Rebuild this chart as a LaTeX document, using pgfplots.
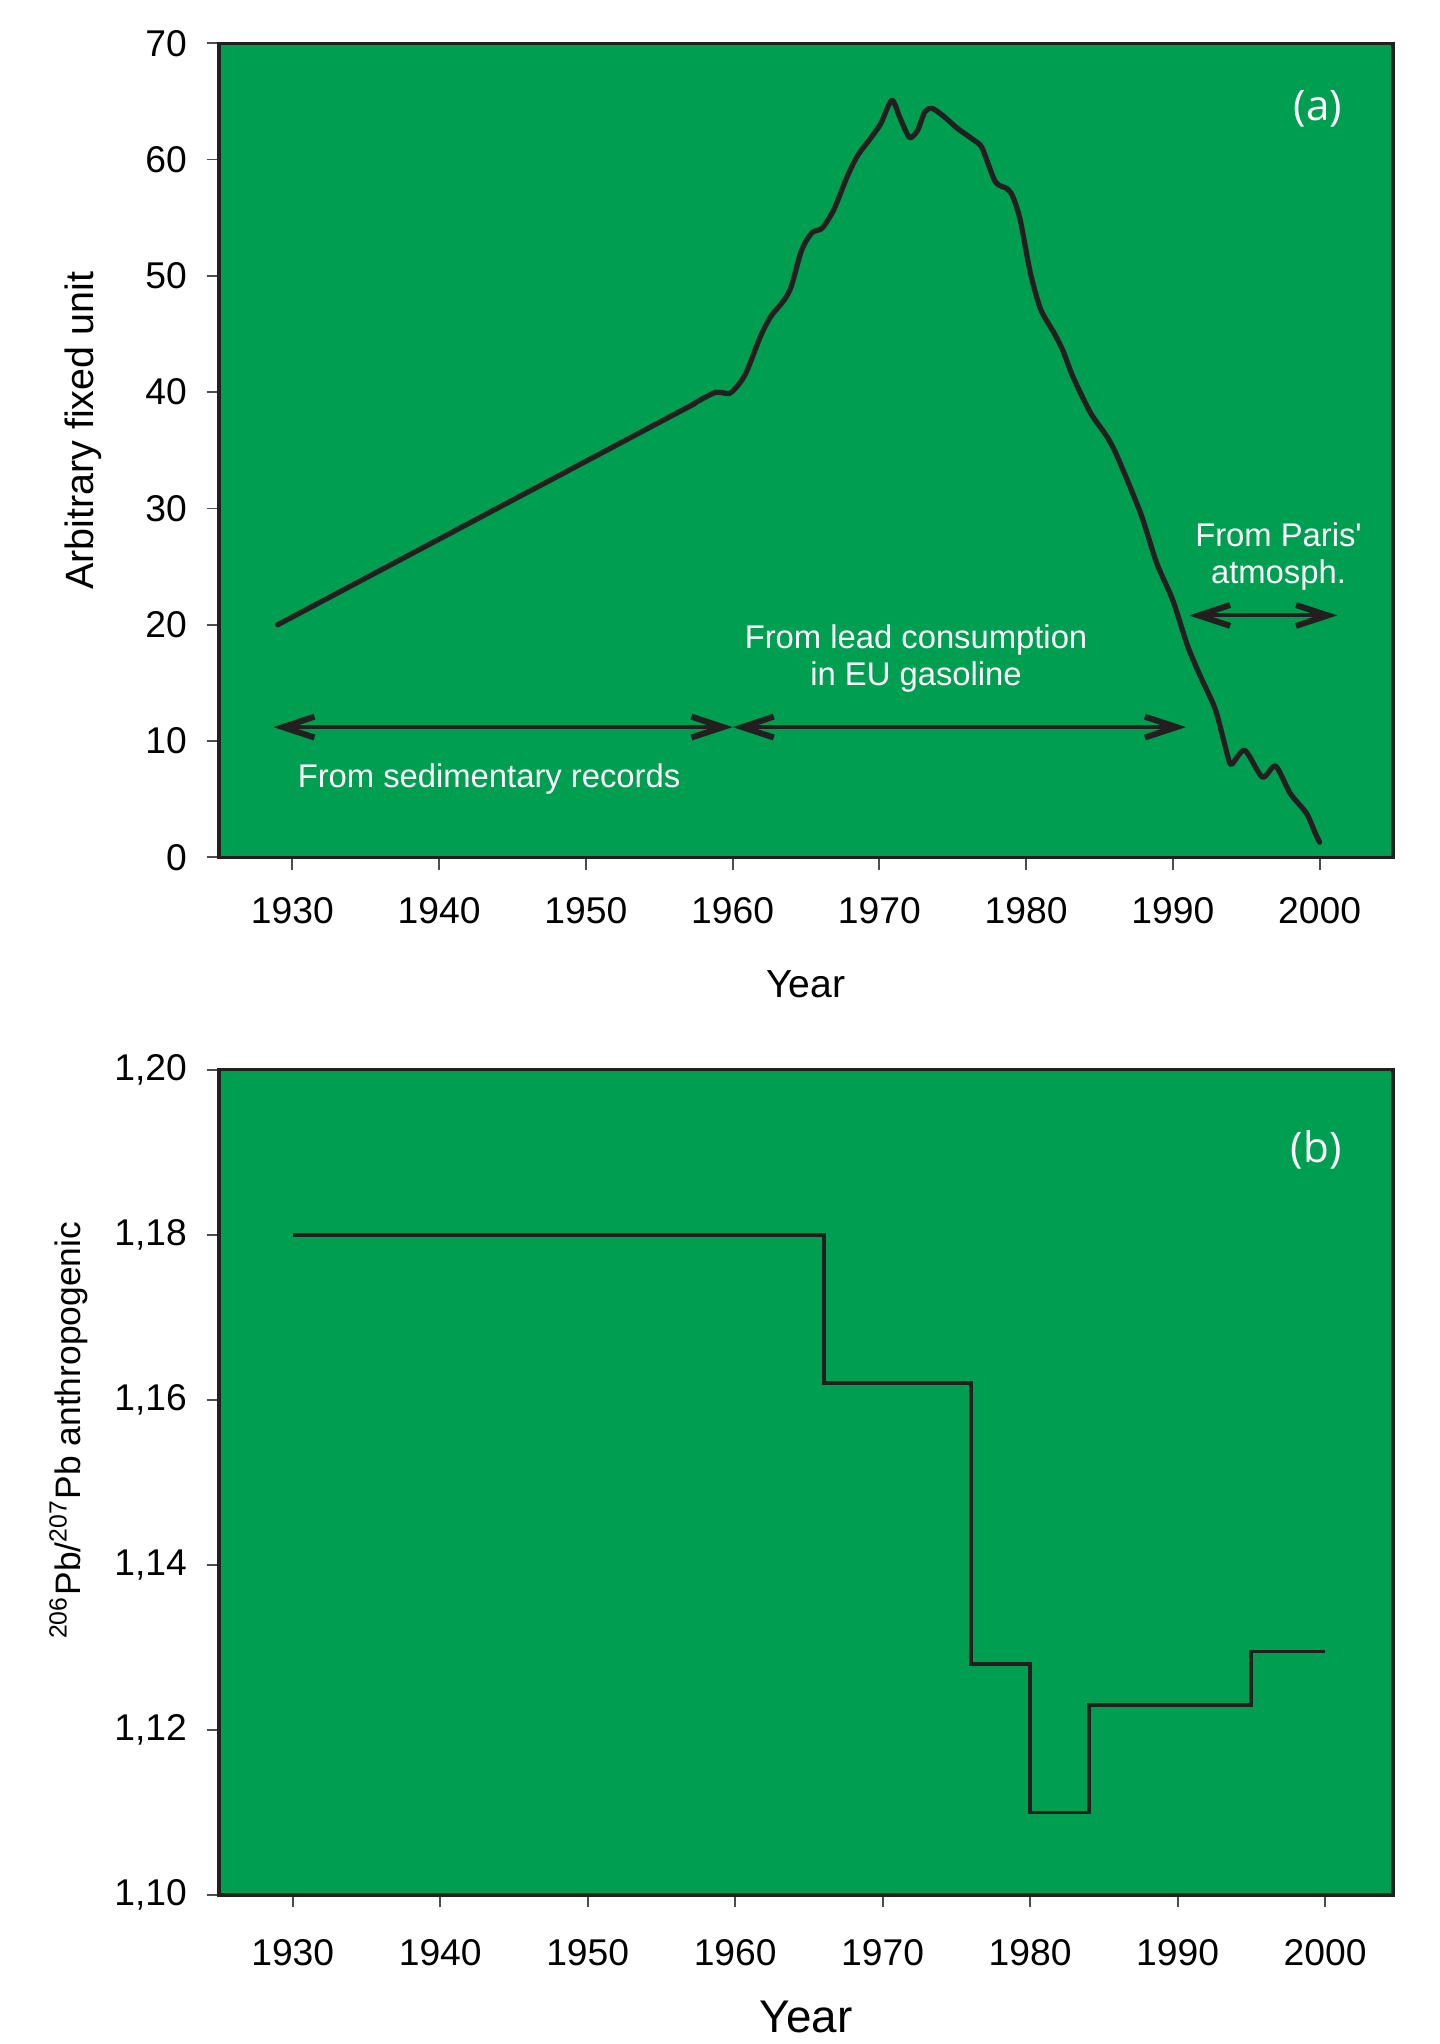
\documentclass[border=0pt]{standalone}
\usepackage{fontspec}
\setmainfont{Liberation Sans}[Ligatures=TeXOff]
\newfontfamily\panelfont{Open Sans}
\usepackage{pgfplots}
\pgfplotsset{compat=1.18}
\usetikzlibrary{arrows.meta}

\definecolor{bggreen}{RGB}{0,158,80}
\definecolor{ink}{RGB}{35,31,32}

\pgfplotsset{
  leadaxis/.style={
    width=315.2pt, scale only axis,
    xmin=1925, xmax=2005,
    xtick={1930,1940,1950,1960,1970,1980,1990,2000},
    axis background/.style={fill=bggreen},
    axis line style={ink, line width=0.9pt},
    tick style={ink!80, line width=0.5pt},
    tick align=outside, major tick length=3.3pt,
    xtick pos=bottom, ytick pos=left,
    /pgf/number format/assume math mode=true,
    x tick label style={/pgf/number format/set thousands separator={},
      font=\fontsize{10}{12}\selectfont, yshift=-3.9pt},
    y tick label style={font=\fontsize{10}{12}\selectfont, xshift=-1.8pt},
    ylabel style={anchor=center},
  },
}
\tikzset{
  barb/.tip={Straight Barb[length=8.5pt,width=5.6pt,line width=1.6pt]},
  rangearrow/.style={ink, line width=1.1pt, barb-barb},
  note/.style={white, align=center, font=\fontsize{8.8}{9.9}\selectfont},
}

\begin{document}
\begin{tikzpicture}

% (a) lead index over time
\begin{axis}[leadaxis,
  at={(0,278.6pt)}, anchor=south west,
  height=218.6pt,
  ymin=0, ymax=70, ytick={0,10,...,70},
  xlabel={Year}, ylabel={Arbitrary fixed unit},
  xlabel style={at={(axis description cs:0.5,-0.1555)}, anchor=center,
    font=\fontsize{10.5}{12}\selectfont},
  ylabel style={at={(axis description cs:-0.116,0.524)},
    font=\fontsize{10.6}{12}\selectfont},
]
\addplot[ink, line width=1.4pt, smooth, tension=0.45, line join=round, line cap=round]
  coordinates {
  (1929.0,20.0) (1955.6,37.8) (1956.8,38.6) (1957.9,39.4) (1958.9,40.0) (1959.8,39.9) (1960.5,40.8)
  (1961.0,41.9) (1961.9,44.8) (1962.6,46.5) (1963.5,47.9) (1964.0,49.1)
  (1964.7,52.2) (1965.4,53.7) (1966.1,54.1) (1966.9,55.7) (1967.8,58.5)
  (1968.5,60.3) (1969.5,62.0) (1970.1,63.1) (1970.85,65.1) (1971.4,63.6)
  (1972.05,61.9) (1972.6,62.5) (1973.1,64.1) (1973.6,64.4) (1974.4,63.7)
  (1975.3,62.7) (1976.4,61.7) (1977.0,61.0) (1977.9,58.1) (1978.7,57.5)
  (1979.1,56.8) (1979.6,54.8) (1980.3,50.2) (1981.0,47.1) (1981.9,45.1)
  (1982.5,43.6) (1983.2,41.3) (1984.4,38.2) (1985.5,36.2) (1986.2,34.5)
  (1987.8,29.6) (1988.9,25.3) (1990.0,22.1) (1991.0,18.2) (1991.9,15.5)
  (1992.9,12.7) (1993.7,8.9) (1994.0,8.0) (1994.9,9.2) (1996.1,6.9)
  (1997.0,7.85) (1998.0,5.5) (1999.1,3.8) (1999.7,2.1) (2000.0,1.3)
  };
\draw[rangearrow] (axis cs:1928.7,11.2) -- (axis cs:1960.0,11.2);
\draw[rangearrow] (axis cs:1960.0,11.2) -- (axis cs:1990.9,11.2);
\draw[rangearrow] (axis cs:1991.1,20.8) -- (axis cs:2001.2,20.8);
\node[note] at (axis cs:1943.4,6.7) {From sedimentary records};
\node[note] at (axis cs:1972.5,17.1) {From lead consumption\\in EU gasoline};
\node[note] at (axis cs:1997.2,25.9) {From Paris'\\atmosph.};
\node[white, font=\panelfont\fontsize{11.3}{13}\selectfont] at (axis cs:1999.9,64.4) {(a)};
\end{axis}

% (b) isotopic ratio of anthropogenic lead
\begin{axis}[leadaxis,
  at={(0,0)}, anchor=south west,
  height=221.6pt, xmax=2004.6,
  ymin=1.10, ymax=1.20, ytick={1.10,1.12,1.14,1.16,1.18,1.20},
  x tick label style={yshift=-1.1pt},
  y tick label style={/pgf/number format/.cd, use comma, fixed, fixed zerofill, precision=2},
  xlabel={Year}, ylabel={\textsuperscript{206}Pb/\textsuperscript{207}Pb anthropogenic},
  xlabel style={at={(axis description cs:0.5,-0.148)}, anchor=center,
    font=\fontsize{12.3}{14}\selectfont},
  ylabel style={at={(axis description cs:-0.1279,0.563)}, font=\fontsize{9.5}{11}\selectfont},
]
\addplot[ink, line width=1.05pt, const plot]
  coordinates {
  (1930,1.180) (1966,1.162) (1976,1.128) (1980,1.110) (1984,1.123)
  (1995,1.1295) (2000,1.1295)
  };
\node[white, font=\panelfont\fontsize{11.3}{13}\selectfont] at (axis cs:1999.4,1.1903) {(b)};
\end{axis}

\pgfresetboundingbox
\useasboundingbox (-58.8pt,-40.0pt) rectangle (327.6pt,508.8pt);
\end{tikzpicture}
\end{document}
